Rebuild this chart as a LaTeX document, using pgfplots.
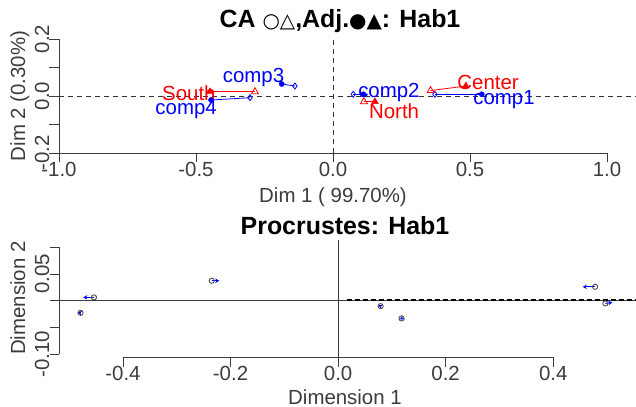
\documentclass[border=0pt]{standalone}
\usepackage{pgfplots}
\pgfplotsset{compat=1.18}
\usepackage{fontspec}
\setmainfont{Liberation Sans}
\newfontfamily\symfont{DejaVu Sans}
\usetikzlibrary{arrows.meta}
\definecolor{rblue}{RGB}{0,0,255}
\definecolor{rred}{RGB}{255,0,0}
\definecolor{axgray}{RGB}{60,60,60}
\newcommand\fs{\fontsize{20.5}{24}\selectfont}
\newcommand\ft{\fontsize{25}{30}\selectfont\bfseries}
\begin{document}
\begin{tikzpicture}
\useasboundingbox (0,0) rectangle (636bp,407bp);
% ---------------- top panel ----------------
\begin{axis}[
 at={(59bp,254bp)}, anchor=south west, scale only axis,
 width=548bp, height=114bp,
 xmin=-1, xmax=1, ymin=-0.2, ymax=0.2, clip=false,
 axis lines*=left, axis line style={draw=none},
 tick align=outside, major tick length=9.5bp,
 tick style={axgray, line width=0.8bp},
 xtick={-1,-0.5,0,0.5,1}, xticklabels={-1.0,-0.5,0.0,0.5,1.0},
 ytick={-0.2,-0.1,0,0.1,0.2}, yticklabels={-0.2,,0.0,,0.2},
 xticklabel style={font=\fs, inner sep=0pt, anchor=north, text=axgray},
 yticklabel style={font=\fs, inner sep=0pt, rotate=90, anchor=south, text=axgray},
]
\draw[axgray, line width=0.8bp] (axis cs:-1,-0.2) -- (axis cs:1,-0.2);
\draw[axgray, line width=0.8bp] (axis cs:-1,-0.2) -- (axis cs:-1,0.2);
\draw[black!80, line width=0.8bp, dash pattern=on 5bp off 4bp] (axis cs:-1,0) -- (axis cs:1.106,0);
\draw[black!80, line width=0.8bp, dash pattern=on 5bp off 4bp] (axis cs:0,-0.2) -- (axis cs:0,0.2);
% connecting segments
\addplot[rblue, line width=0.8bp] coordinates {(0.543,0.006) (0.372,0.006)};
\addplot[rblue, line width=0.8bp] coordinates {(0.111,0.006) (0.074,0.006)};
\addplot[rblue, line width=0.8bp] coordinates {(-0.187,0.042) (-0.139,0.035)};
\addplot[rblue, line width=0.8bp] coordinates {(-0.445,-0.014) (-0.303,-0.006)};
\addplot[rred, line width=0.8bp] coordinates {(0.485,0.035) (0.356,0.019)};
\addplot[rred, line width=0.8bp] coordinates {(0.153,-0.020) (0.113,-0.020)};
\addplot[rred, line width=0.8bp] coordinates {(-0.449,0.015) (-0.285,0.015)};
% markers
\addplot[only marks, mark=*, mark size=2.6bp, rblue] coordinates {(0.543,0.006) (0.111,0.006) (-0.187,0.042) (-0.445,-0.014)};
\addplot[only marks, mark=diamond, mark size=3bp, rblue, mark options={line width=0.8bp}] coordinates {(0.372,0.006) (0.074,0.006) (-0.139,0.035) (-0.303,-0.006)};
\addplot[only marks, mark=triangle*, mark size=4bp, rred] coordinates {(0.485,0.035) (0.153,-0.020) (-0.449,0.015)};
\addplot[only marks, mark=triangle, mark size=4bp, rred, mark options={line width=0.8bp}] coordinates {(0.356,0.019) (0.113,-0.020) (-0.285,0.015)};
% labels
\node[rblue, font=\fs, inner sep=0pt] at (axis cs:0.624,-0.014) {comp1};
\node[rblue, font=\fs, inner sep=0pt] at (axis cs:0.204,0.014) {comp2};
\node[rblue, font=\fs, inner sep=0pt] at (axis cs:-0.290,0.064) {comp3};
\node[rblue, font=\fs, inner sep=0pt] at (axis cs:-0.536,-0.046) {comp4};
\node[rred, font=\fs, inner sep=0pt] at (axis cs:0.566,0.046) {Center};
\node[rred, font=\fs, inner sep=0pt] at (axis cs:0.223,-0.053) {North};
\node[rred, font=\fs, inner sep=0pt] at (axis cs:-0.526,0.011) {South};
\end{axis}
% ---------------- bottom panel ----------------
\begin{axis}[
 at={(59bp,50bp)}, anchor=south west, scale only axis,
 width=577bp, height=117bp,
 xmin=-0.519, xmax=0.554, ymin=-0.105, ymax=0.1137, clip=false,
 axis lines*=left, axis line style={draw=none},
 tick align=outside, major tick length=9.5bp,
 tick style={axgray, line width=0.8bp},
 xtick={-0.4,-0.2,0,0.2,0.4}, xticklabels={-0.4,-0.2,0.0,0.2,0.4},
 ytick={-0.1,-0.05,0,0.05,0.1}, yticklabels={-0.10,,,0.05,},
 xticklabel style={font=\fs, inner sep=0pt, anchor=north, text=axgray},
 yticklabel style={font=\fs, inner sep=0pt, rotate=90, anchor=south, text=axgray},
]
\draw[axgray, line width=0.8bp] (axis cs:-0.4,-0.105) -- (axis cs:0.4,-0.105);
\draw[axgray, line width=0.8bp] (axis cs:-0.519,-0.1) -- (axis cs:-0.519,0.1);
\draw[axgray, line width=0.8bp] (axis cs:-0.519,0) -- (axis cs:0.554,0);
\draw[axgray, line width=0.8bp] (axis cs:0,-0.105) -- (axis cs:0,0.1137);
\draw[black, line width=1.4bp, dash pattern=on 5bp off 3bp] (axis cs:0.017,0.0015) -- (axis cs:0.554,0.0015);
% circles
\addplot[only marks, mark=o, mark size=2.6bp, black!70, mark options={line width=0.9bp}] coordinates {(-0.454,0.0064) (-0.479,-0.0225) (-0.235,0.0375) (0.478,0.0262) (0.497,-0.0049) (0.079,-0.0099) (0.118,-0.0329)};
% arrows
\addplot[rblue, line width=0.9bp, -{Stealth[length=4bp,width=4.5bp]}] coordinates {(-0.454,0.0064) (-0.474,0.0064)};
\addplot[rblue, line width=0.9bp, -{Stealth[length=4bp,width=4.5bp]}] coordinates {(-0.479,-0.0225) (-0.484,-0.021)};
\addplot[rblue, line width=0.9bp, -{Stealth[length=4bp,width=4.5bp]}] coordinates {(-0.235,0.0375) (-0.221,0.0375)};
\addplot[rblue, line width=0.9bp, -{Stealth[length=4bp,width=4.5bp]}] coordinates {(0.478,0.0262) (0.455,0.0262)};
\addplot[rblue, line width=0.9bp, -{Stealth[length=4bp,width=4.5bp]}] coordinates {(0.497,-0.0049) (0.510,-0.0030)};
\addplot[rblue, line width=0.9bp, -{Stealth[length=4bp,width=4.5bp]}] coordinates {(0.079,-0.0099) (0.075,-0.0085)};
\addplot[rblue, line width=0.9bp, -{Stealth[length=4bp,width=4.5bp]}] coordinates {(0.118,-0.0329) (0.115,-0.0345)};
\end{axis}
% ---------------- titles and axis labels ----------------
\node[anchor=base, font=\ft] at (340bp,379bp) {CA {\fontsize{20}{24}\selectfont\symfont ○△},Adj.{\fontsize{20}{24}\selectfont\symfont ●▲}: Hab1};
\node[anchor=base, font=\fs, text=axgray] at (333bp,204bp) {Dim 1 ( 99.70\%)};
\node[anchor=base, rotate=90, font=\fs, text=axgray] at (25bp,311bp) {Dim 2 (0.30\%)};
\node[anchor=base, font=\ft] at (345bp,172bp) {Procrustes: Hab1};
\node[anchor=base, font=\fs, text=axgray] at (345bp,3bp) {Dimension 1};
\node[anchor=base, rotate=90, font=\fs, text=axgray] at (25bp,109bp) {Dimension 2};
\end{tikzpicture}
\end{document}
